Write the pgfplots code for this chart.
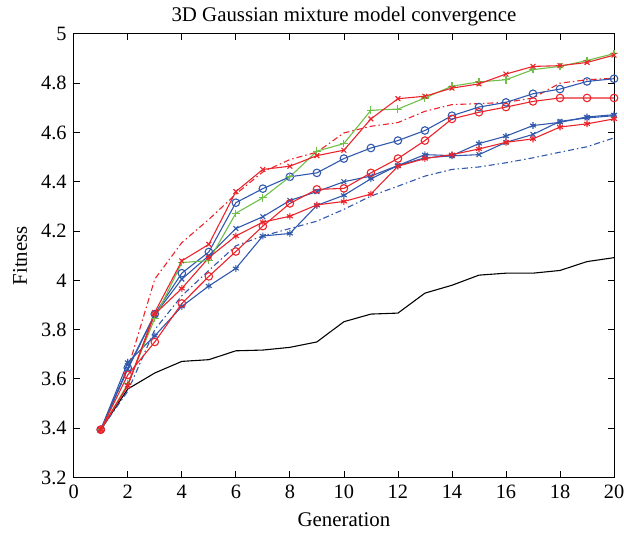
\documentclass[border=0pt]{standalone}
\usepackage{fontspec}
\setmainfont{Liberation Serif}
\usepackage{pgfplots}
\pgfplotsset{compat=1.18}
\usetikzlibrary{calc}

\definecolor{mred}{RGB}{235,35,42}
\definecolor{mblue}{RGB}{48,88,172}
\definecolor{mgreen}{RGB}{110,192,72}

\begin{document}
\fontsize{21}{25}\selectfont
\begin{tikzpicture}
\begin{axis}[
  name=ax,
  width=542bp, height=445bp, scale only axis,
  xmin=0, xmax=20, ymin=3.2, ymax=5,
  xtick={0,2,...,20}, ytick={3.2,3.4,...,5.01},
  yticklabels={3.2,3.4,3.6,3.8,4,4.2,4.4,4.6,4.8,5},
  tick align=inside, major tick length=6bp,
  tick style={black, line width=0.8pt},
  axis line style={line width=0.8pt},
  /pgf/number format/assume math mode=true,
  ticklabel style={font=\fontsize{20.5}{24}\selectfont},
  title={3D Gaussian mixture model convergence},
  title style={at={(axis description cs:0.5,1.014)}, anchor=base},
  xlabel={Generation}, ylabel={Fitness},
  every axis x label/.style={at={(axis description cs:0.5,-0.11)}, anchor=base},
  every axis y label/.style={at={(axis description cs:-0.0996,0.5)}, anchor=center, rotate=90},
  every axis plot/.append style={line width=1.1pt},
  mark options={solid},
]
% black mean
\addplot[black, no marks] coordinates {
(1,3.394)(2,3.559)(3,3.624)(4,3.671)(5,3.678)(6,3.714)(7,3.717)(8,3.728)(9,3.75)(10,3.832)
(11,3.863)(12,3.867)(13,3.948)(14,3.98)(15,4.021)(16,4.029)(17,4.029)(18,4.04)(19,4.076)(20,4.092)};
% blue dash-dot
\addplot[mblue, no marks, dash pattern=on 6bp off 3bp on 1.5bp off 3bp] coordinates {
(1,3.394)(2,3.55)(3,3.80)(4,3.937)(5,4.04)(6,4.14)(7,4.18)(8,4.21)(9,4.24)(10,4.288)
(11,4.342)(12,4.382)(13,4.423)(14,4.45)(15,4.46)(16,4.477)(17,4.497)(18,4.52)(19,4.542)(20,4.578)};
% red dash-dot
\addplot[mred, no marks, dash pattern=on 6bp off 3bp on 1.5bp off 3bp] coordinates {
(1,3.394)(2,3.64)(3,4.005)(4,4.153)(5,4.247)(6,4.35)(7,4.44)(8,4.49)(9,4.52)(10,4.598)
(11,4.625)(12,4.64)(13,4.686)(14,4.713)(15,4.717)(16,4.722)(17,4.74)(18,4.80)(19,4.814)(20,4.82)};
% blue asterisk
\addplot[mblue, mark=asterisk, mark size=3.4bp] coordinates {
(1,3.394)(2,3.667)(3,3.775)(4,3.894)(5,3.977)(6,4.048)(7,4.18)(8,4.19)(9,4.304)(10,4.345)
(11,4.412)(12,4.466)(13,4.51)(14,4.506)(15,4.555)(16,4.585)(17,4.628)(18,4.641)(19,4.663)(20,4.672)};
% blue x
\addplot[mblue, mark=x, mark size=3.4bp] coordinates {
(1,3.394)(2,3.64)(3,3.86)(4,4.005)(5,4.10)(6,4.21)(7,4.258)(8,4.324)(9,4.36)(10,4.40)
(11,4.423)(12,4.466)(13,4.497)(14,4.505)(15,4.51)(16,4.56)(17,4.592)(18,4.645)(19,4.659)(20,4.668)};
% blue circle
\addplot[mblue, mark=o, mark size=3.8bp] coordinates {
(1,3.394)(2,3.645)(3,3.863)(4,4.029)(5,4.115)(6,4.315)(7,4.372)(8,4.42)(9,4.436)(10,4.494)
(11,4.537)(12,4.567)(13,4.608)(14,4.668)(15,4.703)(16,4.722)(17,4.757)(18,4.776)(19,4.807)(20,4.818)};
% green plus
\addplot[mgreen, mark=+, mark size=3.8bp] coordinates {
(1,3.394)(2,3.58)(3,3.845)(4,4.072)(5,4.08)(6,4.272)(7,4.335)(8,4.42)(9,4.524)(10,4.555)
(11,4.69)(12,4.695)(13,4.74)(14,4.788)(15,4.805)(16,4.814)(17,4.855)(18,4.868)(19,4.892)(20,4.92)};
% red asterisk
\addplot[mred, mark=asterisk, mark size=3.4bp] coordinates {
(1,3.394)(2,3.573)(3,3.863)(4,3.967)(5,4.092)(6,4.18)(7,4.236)(8,4.26)(9,4.306)(10,4.32)
(11,4.35)(12,4.463)(13,4.494)(14,4.51)(15,4.533)(16,4.56)(17,4.574)(18,4.622)(19,4.635)(20,4.655)};
% red circle
\addplot[mred, mark=o, mark size=3.8bp] coordinates {
(1,3.394)(2,3.616)(3,3.75)(4,3.906)(5,4.016)(6,4.117)(7,4.22)(8,4.312)(9,4.369)(10,4.373)
(11,4.436)(12,4.494)(13,4.567)(14,4.655)(15,4.682)(16,4.703)(17,4.726)(18,4.74)(19,4.74)(20,4.74)};
% red x
\addplot[mred, mark=x, mark size=3.4bp] coordinates {
(1,3.394)(2,3.573)(3,3.87)(4,4.079)(5,4.146)(6,4.36)(7,4.45)(8,4.463)(9,4.506)(10,4.528)
(11,4.655)(12,4.737)(13,4.747)(14,4.78)(15,4.797)(16,4.837)(17,4.868)(18,4.871)(19,4.884)(20,4.914)};
\end{axis}
\pgfresetboundingbox
\path ($(ax.south west)+(-74bp,-60bp)$) rectangle ($(ax.north east)+(10bp,34bp)$);
\end{tikzpicture}
\end{document}
